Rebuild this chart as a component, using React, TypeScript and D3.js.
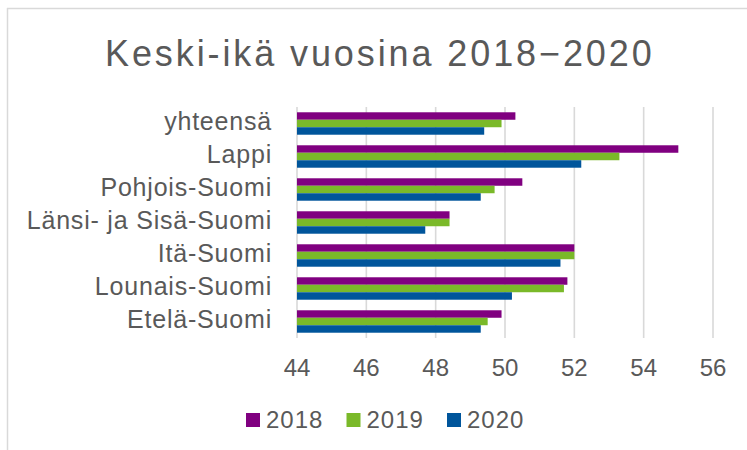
import React from 'react';
import * as d3 from 'd3';

const categories = [
  'yhteensä',
  'Lappi',
  'Pohjois-Suomi',
  'Länsi- ja Sisä-Suomi',
  'Itä-Suomi',
  'Lounais-Suomi',
  'Etelä-Suomi',
];
const years = ['2018', '2019', '2020'];
const values2018 = [50.3, 55.0, 50.5, 48.4, 52.0, 51.8, 49.9];
const values2019 = [49.9, 53.3, 49.7, 48.4, 52.0, 51.7, 49.5];
const values2020 = [49.4, 52.2, 49.3, 47.7, 51.6, 50.2, 49.3];
const xTicks = [44, 46, 48, 50, 52, 54, 56];
const colors = ['#800080', '#7ab929', '#00559b'];

const W = 747;
const H = 450;
const font = '"Liberation Sans", Arial, sans-serif';
const textColor = '#595959';
const gridColor = '#d9d9d9';

const App = () => {
  const series = [values2018, values2019, values2020];

  const x = d3.scaleLinear().domain([44, 56]).range([297, 713]);
  const y = d3
    .scaleBand()
    .domain(categories)
    .range([107, 338])
    .paddingInner(0.32)
    .paddingOuter(0.16);
  const inner = d3.scaleBand().domain(years).range([0, y.bandwidth()]);

  const legendX = d3.scaleLinear().domain([0, 1]).range([246, 346.5]);

  return (
    <svg
      width={W}
      height={H}
      style={{ position: 'absolute', left: 0, top: 0, background: '#fff' }}
    >
      {/* chart frame, only left and top edges are visible */}
      <line x1={7.5} x2={7.5} y1={8} y2={H} stroke={gridColor} strokeWidth={1.5} />
      <line x1={7} x2={W} y1={8.5} y2={8.5} stroke={gridColor} strokeWidth={1.5} />

      <text
        x={105}
        y={65.7}
        fontFamily={font}
        fontSize={36}
        letterSpacing={2.9}
        fill={textColor}
      >
        Keski-ikä vuosina 2018−2020
      </text>

      {/* gridlines */}
      {xTicks.map((t) => (
        <line
          key={t}
          x1={x(t)}
          x2={x(t)}
          y1={y.range()[0]}
          y2={y.range()[1]}
          stroke={gridColor}
          strokeWidth={1.6}
        />
      ))}

      {/* bars */}
      {categories.map((c, i) => (
        <g key={c} transform={`translate(0,${y(c)})`}>
          {years.map((yr, j) => (
            <rect
              key={yr}
              x={x(44)}
              y={inner(yr)}
              width={x(series[j][i]) - x(44)}
              height={inner.bandwidth()}
              fill={colors[j]}
            />
          ))}
        </g>
      ))}

      {/* tick labels */}
      {xTicks.map((t) => (
        <text
          key={t}
          x={x(t)}
          y={375.7}
          textAnchor="middle"
          fontFamily={font}
          fontSize={24}
          fill={textColor}
        >
          {t}
        </text>
      ))}

      {/* category labels */}
      {categories.map((c) => (
        <text
          key={c}
          x={272}
          y={(y(c) as number) + y.bandwidth() / 2 + 6.7}
          textAnchor="end"
          fontFamily={font}
          fontSize={25}
          letterSpacing={0.8}
          fill={textColor}
        >
          {c}
        </text>
      ))}

      {/* legend */}
      {years.map((yr, j) => (
        <g key={yr} transform={`translate(${legendX(j)},0)`}>
          <rect x={0} y={413} width={14} height={14} fill={colors[j]} />
          <text
            x={20}
            y={428.3}
            fontFamily={font}
            fontSize={24}
            letterSpacing={1}
            fill={textColor}
          >
            {yr}
          </text>
        </g>
      ))}
    </svg>
  );
};

export default App;
